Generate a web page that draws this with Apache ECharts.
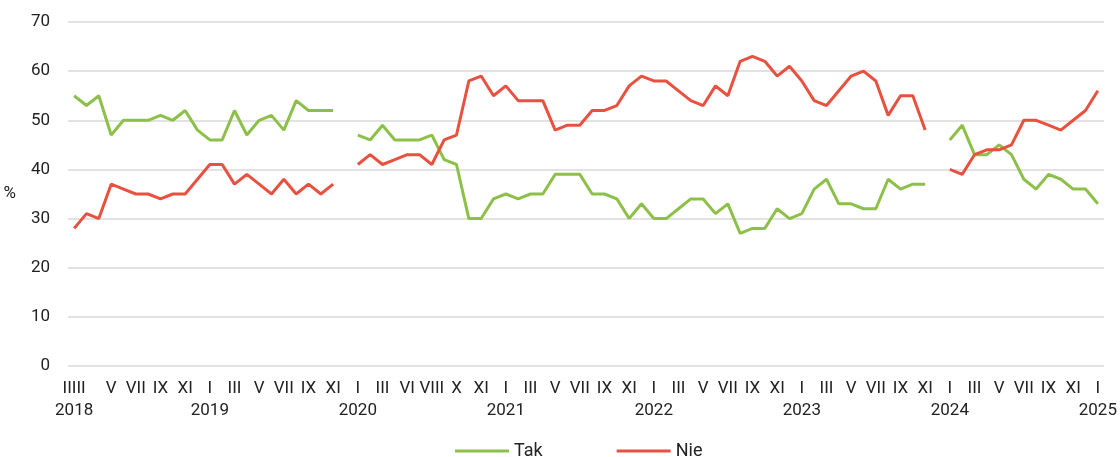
<!DOCTYPE html>
<html>
<head>
<meta charset="utf-8">
<script src="https://cdn.jsdelivr.net/npm/echarts@6/dist/echarts.min.js"></script>
<style>
  html, body { margin: 0; padding: 0; background: #fff; }
  #chart { width: 1120px; height: 457px; }
</style>
</head>
<body>
<div id="chart"></div>
<script>
// etykiety miesięcy (co druga fala badania)
var tickLabels = [
  'IIIII','','','V','','VII','','IX','','XI','',
  'I','','III','','V','','VII','','IX','','XI','',
  'I','','III','','VI','','VIII','','X','','XI','',
  'I','','III','','V','','VII','','IX','','XI','',
  'I','','III','','V','','VII','','IX','','XI','',
  'I','','III','','V','','VII','','IX','','XI','',
  'I','','III','','V','','VII','','IX','','XI','',
  'I'
];
// lata pod etykietą stycznia
var yearLabels = { 0: '2018', 11: '2019', 23: '2020', 35: '2021', 47: '2022', 59: '2023', 71: '2024', 83: '2025' };

var tak = [
  55, 53, 55, 47, 50, 50, 50, 51, 50, 52, 48,
  46, 46, 52, 47, 50, 51, 48, 54, 52, 52, 52, null,
  47, 46, 49, 46, 46, 46, 47, 42, 41, 30, 30, 34,
  35, 34, 35, 35, 39, 39, 39, 35, 35, 34, 30, 33,
  30, 30, 32, 34, 34, 31, 33, 27, 28, 28, 32, 30,
  31, 36, 38, 33, 33, 32, 32, 38, 36, 37, 37, null,
  46, 49, 43, 43, 45, 43, 38, 36, 39, 38, 36, 36,
  33
];
var nie = [
  28, 31, 30, 37, 36, 35, 35, 34, 35, 35, 38,
  41, 41, 37, 39, 37, 35, 38, 35, 37, 35, 37, null,
  41, 43, 41, 42, 43, 43, 41, 46, 47, 58, 59, 55,
  57, 54, 54, 54, 48, 49, 49, 52, 52, 53, 57, 59,
  58, 58, 56, 54, 53, 57, 55, 62, 63, 62, 59, 61,
  58, 54, 53, 56, 59, 60, 58, 51, 55, 55, 48, null,
  40, 39, 43, 44, 44, 45, 50, 50, 49, 48, 50, 52,
  56
];

var cats = [];
for (var i = 0; i < tickLabels.length; i++) cats.push(String(i));

var myChart = echarts.init(document.getElementById('chart'));
myChart.setOption({
  animation: false,
  textStyle: { fontFamily: 'Roboto, sans-serif' },
  grid: { left: 68, right: 16, top: 22, bottom: 91, containLabel: false },
  legend: {
    left: 450, top: 437,
    itemWidth: 54, itemHeight: 3, itemGap: 74,
    icon: 'rect',
    textStyle: { fontSize: 18, color: '#222' },
    data: ['Tak', 'Nie']
  },
  xAxis: {
    type: 'category',
    data: cats,
    boundaryGap: true,
    axisLine: { show: false },
    axisTick: { show: false },
    axisLabel: {
      interval: 0,
      margin: 12,
      fontSize: 17,
      color: '#222',
      lineHeight: 22,
      formatter: function (v, idx) {
        return tickLabels[idx] + '\n' + (yearLabels[idx] || '');
      }
    }
  },
  yAxis: {
    type: 'value',
    min: 0, max: 70, interval: 10,
    name: '%',
    nameLocation: 'middle',
    nameRotate: 0,
    nameGap: 52,
    nameTextStyle: { fontSize: 17, color: '#222' },
    axisLabel: { fontSize: 17, color: '#222', margin: 18 },
    splitLine: { lineStyle: { color: '#d9d9d9', width: 1.5 } }
  },
  series: [
    {
      name: 'Tak', type: 'line', data: tak, symbol: 'none',
      connectNulls: false,
      itemStyle: { color: '#8dc049' },
      lineStyle: { width: 3, color: '#8dc049' }
    },
    {
      name: 'Nie', type: 'line', data: nie, symbol: 'none',
      connectNulls: false,
      itemStyle: { color: '#e8513f' },
      lineStyle: { width: 3, color: '#e8513f' }
    }
  ]
});
</script>
</body>
</html>
